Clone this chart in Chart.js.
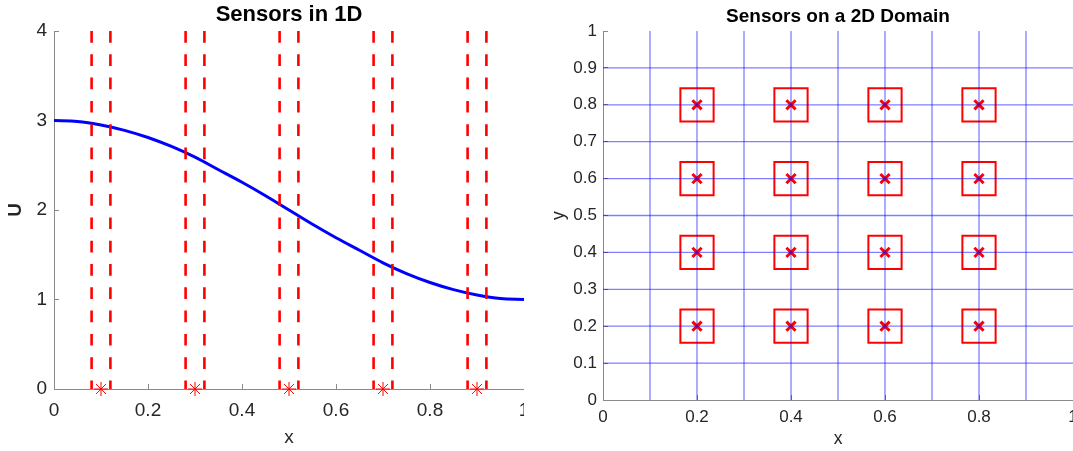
<!DOCTYPE html>
<html>
<head>
<meta charset="utf-8">
<script src="https://cdn.jsdelivr.net/npm/chart.js@4.4.1/dist/chart.umd.min.js"></script>
<style>
  html, body { margin:0; padding:0; background:#fff; overflow:hidden; width:1073px; height:451px; }
  .panel { position:absolute; top:0; height:451px; overflow:hidden; }
  canvas { display:block; }
</style>
</head>
<body>
<div class="panel" style="left:0;width:524px;"><canvas id="c1" width="560" height="451"></canvas></div>
<div class="panel" style="left:540px;width:533px;"><canvas id="c2" width="580" height="451"></canvas></div>
<script>
// ---------- Left panel: Sensors in 1D ----------
const curveX = [0,0.05,0.1,0.15,0.2,0.25,0.3,0.35,0.4,0.45,0.5,0.55,0.6,0.65,0.7,0.75,0.8,0.85,0.9,0.95,1];
const curveU = [3.00,2.99,2.95,2.89,2.81,2.71,2.59,2.45,2.31,2.16,2.00,1.84,1.69,1.55,1.41,1.29,1.19,1.11,1.05,1.01,1.00];
const sensor1DX = [0.1,0.3,0.5,0.7,0.9];
const sensor1DY = [0,0,0,0,0];
const windowEdges = [0.08,0.12,0.28,0.32,0.48,0.52,0.68,0.72,0.88,0.92];
const uRange = [0,4];
const xRange = [0,1];

// ---------- Right panel: Sensors on a 2D Domain ----------
const sensor2DX = [0.2,0.4,0.6,0.8];
const sensor2DY = [0.2,0.4,0.6,0.8];
const meshLines = [0.1,0.2,0.3,0.4,0.5,0.6,0.7,0.8,0.9];
const yRange2 = [0,1];

Chart.defaults.font.family = "'Liberation Sans', Arial, Helvetica, sans-serif";
Chart.defaults.color = '#262626';

const AXIS = '#8a8a8a';
const RED = '#ff0000';
const fmt = v => String(Number(Number(v).toFixed(2)));

function axisBase(extra) {
  return Object.assign({
    type: 'linear',
    grid: { drawOnChartArea:false, drawTicks:true, tickLength:-5, tickColor:AXIS, tickWidth:1 },
    border: { display:true, color:AXIS, width:1 }
  }, extra);
}

// Left chart
new Chart(document.getElementById('c1'), {
  type: 'scatter',
  data: {
    datasets: [
      ...windowEdges.map(x => ({
        type:'line',
        data:[{x:x, y:uRange[1]}, {x:x, y:uRange[0]}],
        borderColor:RED, borderWidth:2.6, borderDash:[11.7,11.6],
        pointRadius:0, fill:false
      })),
      {
        type:'scatter',
        data: sensor1DX.map((x,i) => ({x:x, y:sensor1DY[i]})),
        pointStyle:'star', pointRadius:7, pointBorderWidth:1,
        borderColor:RED, backgroundColor:RED, clip:false
      },
      {
        type:'line',
        data: curveX.map((x,i) => ({x:x, y:curveU[i]})),
        borderColor:'#0000ff', borderWidth:3, pointRadius:0,
        cubicInterpolationMode:'monotone', fill:false
      }
    ]
  },
  options: {
    responsive:false, animation:false, events:[],
    layout:{ padding:{ left:0, right:36, top:0, bottom:0 } },
    plugins:{
      legend:{ display:false }, tooltip:{ enabled:false },
      title:{ display:true, text:'Sensors in 1D', fullSize:false, color:'#000',
              font:{ size:22, weight:'bold' }, padding:{ top:1.3, bottom:3.3 } }
    },
    scales:{
      x: axisBase({
        min:xRange[0], max:xRange[1],
        afterFit: s => { s.height = 62; },
        ticks:{ stepSize:0.2, padding:15, font:{ size:19 }, color:'#262626', maxRotation:0, autoSkip:false, callback: fmt },
        title:{ display:true, text:'x', color:'#262626', font:{ size:19 }, padding:{ top:0, bottom:2 } }
      }),
      y: axisBase({
        min:uRange[0], max:uRange[1],
        afterFit: s => { s.width = 54; },
        ticks:{ stepSize:1, padding:12, font:{ size:19 }, color:'#262626', callback: fmt },
        title:{ display:true, text:'U', color:'#262626', font:{ size:19, weight:'bold' }, padding:{ top:4, bottom:0 } }
      })
    }
  }
});

// Right chart
const sensorPts = [];
sensor2DY.forEach(y => sensor2DX.forEach(x => sensorPts.push({x:x, y:y})));
const BLUE = 'rgba(0,0,255,0.5)';

new Chart(document.getElementById('c2'), {
  type: 'scatter',
  data: {
    datasets: [
      ...meshLines.map(v => ({
        type:'line', data:[{x:v, y:yRange2[0]}, {x:v, y:yRange2[1]}],
        borderColor:BLUE, borderWidth:1.3, pointRadius:0, fill:false
      })),
      ...meshLines.map(v => ({
        type:'line', data:[{x:xRange[0], y:v}, {x:xRange[1], y:v}],
        borderColor:BLUE, borderWidth:1.3, pointRadius:0, fill:false
      })),
      {
        type:'scatter', data: sensorPts,
        pointStyle:'crossRot', pointRadius:6.5, pointBorderWidth:3,
        borderColor:RED, backgroundColor:RED
      },
      {
        type:'scatter', data: sensorPts,
        pointStyle:'rect', pointRadius:23.5, pointBorderWidth:2,
        borderColor:RED, backgroundColor:'rgba(0,0,0,0)'
      }
    ]
  },
  options: {
    responsive:false, animation:false, events:[],
    layout:{ padding:{ left:0, right:47, top:0, bottom:0 } },
    plugins:{
      legend:{ display:false }, tooltip:{ enabled:false },
      title:{ display:true, text:'Sensors on a 2D Domain', fullSize:false, color:'#000',
              font:{ size:19, weight:'bold' }, padding:{ top:5.6, bottom:2.6 } }
    },
    scales:{
      x: axisBase({
        min:xRange[0], max:xRange[1],
        afterFit: s => { s.height = 51; },
        ticks:{ stepSize:0.2, padding:11.8, font:{ size:17 }, color:'#262626', maxRotation:0, autoSkip:false, callback: fmt },
        title:{ display:true, text:'x', color:'#262626', font:{ size:17.5 }, padding:{ top:0, bottom:1.8 } }
      }),
      y: axisBase({
        min:yRange2[0], max:yRange2[1],
        afterFit: s => { s.width = 63; },
        ticks:{ stepSize:0.1, padding:11, font:{ size:17 }, color:'#262626', autoSkip:false, callback: fmt },
        title:{ display:true, text:'y', color:'#262626', font:{ size:17.5 }, padding:{ top:8.3, bottom:0 } }
      })
    }
  }
});
</script>
</body>
</html>
